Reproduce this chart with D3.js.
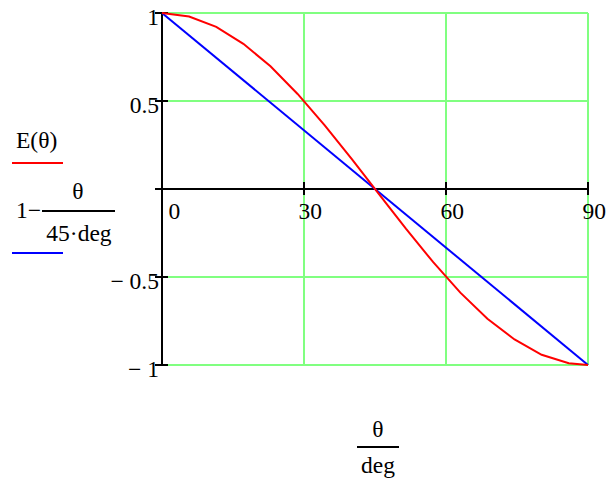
<!DOCTYPE html>
<html lang="en">
<head>
    <meta charset="UTF-8">
    <title>E(theta) plot</title>
    <script src="https://d3js.org/d3.v7.min.js"></script>
    <style>
        body { margin: 0; background: #fff; }
    </style>
</head>
<body>
    <script>
        // DATA
        var thetaDeg = [0, 5.73, 11.46, 17.19, 22.92, 28.65, 34.38, 40.11, 45.84, 51.57, 57.3, 63.03, 68.75, 74.48, 80.21, 85.94, 90];
        var eValues = [1, 0.98, 0.921, 0.825, 0.697, 0.54, 0.362, 0.17, -0.029, -0.227, -0.416, -0.589, -0.737, -0.855, -0.942, -0.99, -1];
        var lineTheta = [0, 90];
        var lineValues = [1, -1];
        var xTicks = [0, 30, 60, 90];
        var xTickLabels = ["0", "30", "60", "90"];
        var yTicks = [1, 0.5, 0, -0.5, -1];
        var yTickLabels = ["1", "0.5", "", "\u2212 0.5", "\u2212 1"];

        var width = 607, height = 479;
        var fs = 23.5;
        var serif = "'Liberation Serif', 'Times New Roman', Times, serif";

        var svg = d3.select("body").append("svg")
            .attr("width", width)
            .attr("height", height)
            .attr("font-family", serif);

        svg.append("rect").attr("width", width).attr("height", height).attr("fill", "#fff");

        var x = d3.scaleLinear().domain([0, 90]).range([162, 588]);
        var y = d3.scaleLinear().domain([-1, 1]).range([365, 13]);

        // green grid
        var grid = svg.append("g").attr("stroke", "#80ff80").attr("stroke-width", 2);
        grid.selectAll(".hg").data(yTicks.filter(function(d) { return d !== 0; }))
            .enter().append("line")
            .attr("x1", x(0)).attr("x2", x(90))
            .attr("y1", function(d) { return y(d); })
            .attr("y2", function(d) { return y(d); });
        grid.selectAll(".vg").data(xTicks.filter(function(d) { return d !== 0; }))
            .enter().append("line")
            .attr("y1", y(-1)).attr("y2", y(1))
            .attr("x1", function(d) { return x(d); })
            .attr("x2", function(d) { return x(d); });

        // black axes
        var ax = svg.append("g").attr("stroke", "#000").attr("stroke-width", 2);
        ax.append("line").attr("x1", x(0)).attr("x2", x(0)).attr("y1", y(-1)).attr("y2", y(1));
        ax.append("line").attr("x1", x(0) - 7).attr("x2", x(90)).attr("y1", y(0)).attr("y2", y(0));
        ax.selectAll(".yt").data(yTicks).enter().append("line")
            .attr("x1", x(0) - 7).attr("x2", x(0) + 6)
            .attr("y1", function(d) { return y(d); })
            .attr("y2", function(d) { return y(d); });
        ax.selectAll(".xt").data(xTicks).enter().append("line")
            .attr("y1", y(0) - 7).attr("y2", y(0) + 6)
            .attr("x1", function(d) { return x(d); })
            .attr("x2", function(d) { return x(d); });

        // tick labels through d3 axes
        var yAxis = d3.axisLeft(y).tickValues(yTicks).tickSize(0).tickPadding(0)
            .tickFormat(function(d, i) { return yTickLabels[i]; });
        var gy = svg.append("g").attr("transform", "translate(" + (x(0) - 3) + ",0)").call(yAxis);
        gy.attr("font-family", serif).attr("font-size", fs);
        gy.select(".domain").remove();
        gy.selectAll("text").attr("dy", "0.5em");

        var xAxis = d3.axisBottom(x).tickValues(xTicks).tickSize(0).tickPadding(0)
            .tickFormat(function(d, i) { return xTickLabels[i]; });
        var gx = svg.append("g").attr("transform", "translate(0," + (y(0) + 30) + ")").call(xAxis);
        gx.attr("font-family", serif).attr("font-size", fs);
        gx.select(".domain").remove();
        gx.selectAll("text")
            .attr("dy", 0)
            .attr("text-anchor", "start")
            .attr("dx", function(d) { return d === 0 ? 6 : -6; });

        // curves
        var line = d3.line()
            .x(function(d) { return x(d[0]); })
            .y(function(d) { return y(d[1]); });

        svg.append("path")
            .datum(lineTheta.map(function(t, i) { return [t, lineValues[i]]; }))
            .attr("d", line)
            .attr("fill", "none").attr("stroke", "#0000ff").attr("stroke-width", 2);

        svg.append("path")
            .datum(thetaDeg.map(function(t, i) { return [t, eValues[i]]; }))
            .attr("d", line)
            .attr("fill", "none").attr("stroke", "#ff0000").attr("stroke-width", 2);

        // legend / y labels
        var leg = svg.append("g").attr("font-size", fs).attr("font-family", serif);
        leg.append("text").attr("x", 16).attr("y", 148).text("E(\u03B8)");
        leg.append("line").attr("x1", 12).attr("x2", 63).attr("y1", 163).attr("y2", 163)
            .attr("stroke", "#ff0000").attr("stroke-width", 2);
        leg.append("text").attr("x", 16).attr("y", 218).text("1\u2212");
        leg.append("line").attr("x1", 42).attr("x2", 115).attr("y1", 211).attr("y2", 211)
            .attr("stroke", "#000").attr("stroke-width", 2);
        leg.append("text").attr("x", 78).attr("y", 199).attr("text-anchor", "middle").text("\u03B8");
        leg.append("text").attr("x", 79).attr("y", 241).attr("text-anchor", "middle").text("45\u00B7deg");
        leg.append("line").attr("x1", 12).attr("x2", 63).attr("y1", 253).attr("y2", 253)
            .attr("stroke", "#0000ff").attr("stroke-width", 2);

        // x axis title
        var xt = svg.append("g").attr("font-size", fs).attr("font-family", serif);
        xt.append("text").attr("x", 378).attr("y", 437).attr("text-anchor", "middle").text("\u03B8");
        xt.append("line").attr("x1", 357).attr("x2", 399).attr("y1", 447).attr("y2", 447)
            .attr("stroke", "#000").attr("stroke-width", 2);
        xt.append("text").attr("x", 378).attr("y", 473).attr("text-anchor", "middle").text("deg");
    </script>
</body>
</html>
